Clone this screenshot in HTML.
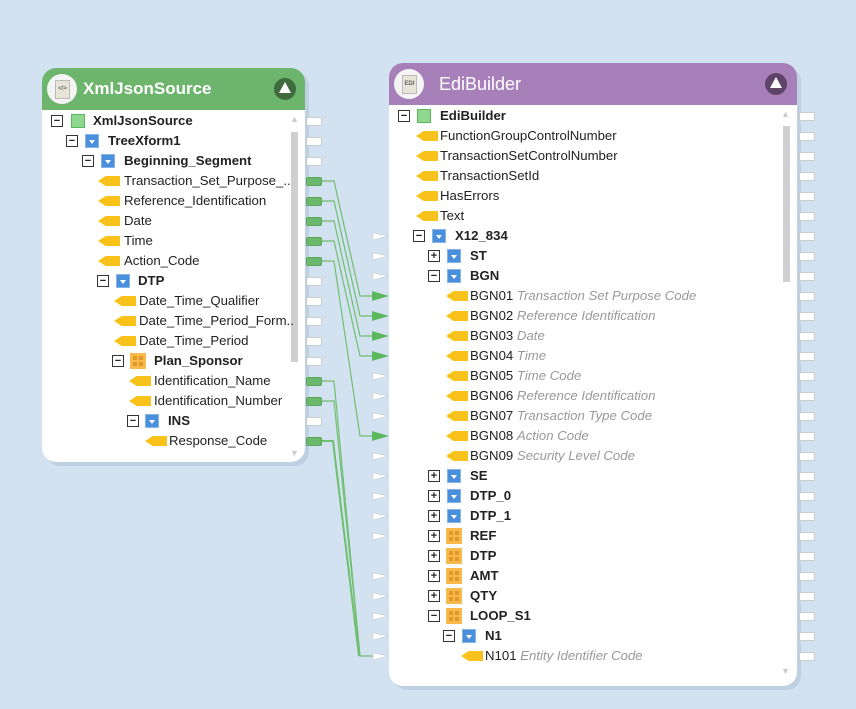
<!DOCTYPE html>
<html><head><meta charset="utf-8"><style>
body{margin:0;width:856px;height:709px;background:#d3e2f1;position:relative;overflow:hidden;font-family:"Liberation Sans",sans-serif;font-size:13.2px;color:#222}
.p{position:absolute;background:#fff;border-radius:14px;box-shadow:4px 4px 0 #bfd0e2}
.h{position:absolute;left:0;right:0;top:0;border-radius:14px 14px 0 0;color:#fff;font-size:17px;font-weight:bold}
.logo{position:absolute;width:30px;height:30px;border-radius:50%;background:#f4f4f4;top:6px;left:5px}
.logo i{position:absolute;left:8px;top:6px;width:13px;height:17px;background:#e8e4d8;border:1px solid #bbb;font-size:6px;color:#666;font-style:normal;text-align:center;line-height:17px}
.up{position:absolute;width:22px;height:22px;border-radius:50%;top:10px}
.up:after{content:"";position:absolute;left:5px;top:4px;border-left:6px solid transparent;border-right:6px solid transparent;border-bottom:11px solid #fff}
.a{position:absolute;white-space:nowrap}
.b{position:absolute;width:10px;height:10px;border:1px solid #333;background:#fff;font-size:11px;line-height:10px;text-align:center;font-weight:bold}
.bi{position:absolute;width:14px;height:14px;background:#4a8fdb;border:1px solid #86b3e8;box-sizing:border-box}
.bi:after{content:"";position:absolute;left:3px;top:5px;border-left:3px solid transparent;border-right:3px solid transparent;border-top:4px solid #fff}
.gi{position:absolute;width:14px;height:14px;background:#8fd68f;border:1.5px solid #5cb85c;box-sizing:border-box}
.oi{position:absolute;width:16px;height:16px;background:#f7b94a;box-sizing:border-box}
.oi:after{content:"";position:absolute;left:3px;top:3px;width:10px;height:10px;background:linear-gradient(#f7b94a,#f7b94a) 4px 0/2px 10px no-repeat,linear-gradient(#f7b94a,#f7b94a) 0 4px/10px 2px no-repeat,#e0962a}
.lf{position:absolute;width:22px;height:10px;background:#f8c21b;clip-path:polygon(0 50%,35% 0,100% 0,100% 100%,35% 100%)}
.t{position:absolute;white-space:nowrap}
.bd{font-weight:bold}
.it{color:#999;font-style:italic}
.po{position:absolute;width:14px;height:7px;background:#fff;border:1px solid #ccc;border-radius:2px}
.pg{background:#6cb86c;border-color:#5aa55a}
.sb{position:absolute;width:7px;background:#cfcfcf}
</style></head><body>

<svg width="856" height="709" style="position:absolute;left:0;top:0">
<g fill="none" stroke="#6fbf6f" stroke-width="1.2">
<polyline points="322,181 334,181 360,296 374,296"/>
<polyline points="322,201 334,201 360,316 374,316"/>
<polyline points="322,221 334,221 360,336 374,336"/>
<polyline points="322,241 334,241 360,356 374,356"/>
<polyline points="322,261 334,261 360,436 374,436"/>
<polyline points="322,381 334,381 360,656 374,656"/>
<polyline points="322,401 334,401 360,656"/>
<polyline points="322,441 333,441 359,656" stroke-width="2"/>
</g>
<g fill="#fff" stroke="#ccc" stroke-width="0.6">
<polygon points="373,233 388,236 373,240"/><polygon points="373,253 388,256 373,260"/><polygon points="373,273 388,276 373,280"/>
<polygon points="373,313 388,316 373,320"/><polygon points="373,333 388,336 373,340"/>
<polygon points="373,373 388,376 373,380"/><polygon points="373,393 388,396 373,400"/><polygon points="373,413 388,416 373,420"/>
<polygon points="373,453 388,456 373,460"/><polygon points="373,473 388,476 373,480"/><polygon points="373,493 388,496 373,500"/><polygon points="373,513 388,516 373,520"/><polygon points="373,533 388,536 373,540"/>
<polygon points="373,573 388,576 373,580"/><polygon points="373,593 388,596 373,600"/><polygon points="373,613 388,616 373,620"/><polygon points="373,633 388,636 373,640"/><polygon points="373,653 388,656 373,660"/>
</g>
<g fill="#5cb85c">
<polygon points="372,291 389,296 372,301"/><polygon points="372,311 389,316 372,321"/><polygon points="372,331 389,336 372,341"/><polygon points="372,351 389,356 372,361"/><polygon points="372,431 389,436 372,441"/>
</g>
</svg>

<div class="p" style="left:42px;top:68px;width:263px;height:394px">
<div class="h" style="height:42px;background:#6db56d"><div class="logo"><i>&lt;/&gt;</i></div><span class="a" style="left:41px;top:11px">XmlJsonSource</span><div class="up" style="left:232px;background:#3f6b3f"></div></div>
<div class="sb" style="left:249px;top:64px;height:230px"></div>
<span class="a" style="left:248px;top:46px;color:#ccc;font-size:9px">▲</span>
<span class="a" style="left:248px;top:380px;color:#ccc;font-size:9px">▼</span>
</div>
<div style="position:absolute;left:0;top:0">
<div class="b" style="left:51px;top:115px">−</div><div class="gi" style="left:71px;top:114px"></div><span class="t bd" style="left:93px;top:113px">XmlJsonSource</span>
<div class="b" style="left:66px;top:135px">−</div><div class="bi" style="left:85px;top:134px"></div><span class="t bd" style="left:108px;top:133px">TreeXform1</span>
<div class="b" style="left:82px;top:155px">−</div><div class="bi" style="left:101px;top:154px"></div><span class="t bd" style="left:124px;top:153px">Beginning_Segment</span>
<div class="lf" style="left:98px;top:176px"></div><span class="t" style="left:124px;top:173px">Transaction_Set_Purpose_..</span>
<div class="lf" style="left:98px;top:196px"></div><span class="t" style="left:124px;top:193px">Reference_Identification</span>
<div class="lf" style="left:98px;top:216px"></div><span class="t" style="left:124px;top:213px">Date</span>
<div class="lf" style="left:98px;top:236px"></div><span class="t" style="left:124px;top:233px">Time</span>
<div class="lf" style="left:98px;top:256px"></div><span class="t" style="left:124px;top:253px">Action_Code</span>
<div class="b" style="left:97px;top:275px">−</div><div class="bi" style="left:116px;top:274px"></div><span class="t bd" style="left:138px;top:273px">DTP</span>
<div class="lf" style="left:114px;top:296px"></div><span class="t" style="left:139px;top:293px">Date_Time_Qualifier</span>
<div class="lf" style="left:114px;top:316px"></div><span class="t" style="left:139px;top:313px">Date_Time_Period_Form..</span>
<div class="lf" style="left:114px;top:336px"></div><span class="t" style="left:139px;top:333px">Date_Time_Period</span>
<div class="b" style="left:112px;top:355px">−</div><div class="oi" style="left:130px;top:353px"></div><span class="t bd" style="left:154px;top:353px">Plan_Sponsor</span>
<div class="lf" style="left:129px;top:376px"></div><span class="t" style="left:154px;top:373px">Identification_Name</span>
<div class="lf" style="left:129px;top:396px"></div><span class="t" style="left:154px;top:393px">Identification_Number</span>
<div class="b" style="left:127px;top:415px">−</div><div class="bi" style="left:145px;top:414px"></div><span class="t bd" style="left:168px;top:413px">INS</span>
<div class="lf" style="left:145px;top:436px"></div><span class="t" style="left:169px;top:433px">Response_Code</span>
</div>
<div class="po" style="left:306px;top:117px"></div><div class="po" style="left:306px;top:137px"></div><div class="po" style="left:306px;top:157px"></div>
<div class="po pg" style="left:306px;top:177px"></div><div class="po pg" style="left:306px;top:197px"></div><div class="po pg" style="left:306px;top:217px"></div><div class="po pg" style="left:306px;top:237px"></div><div class="po pg" style="left:306px;top:257px"></div>
<div class="po" style="left:306px;top:277px"></div><div class="po" style="left:306px;top:297px"></div><div class="po" style="left:306px;top:317px"></div><div class="po" style="left:306px;top:337px"></div><div class="po" style="left:306px;top:357px"></div>
<div class="po pg" style="left:306px;top:377px"></div><div class="po pg" style="left:306px;top:397px"></div><div class="po" style="left:306px;top:417px"></div><div class="po pg" style="left:306px;top:437px"></div>

<div class="p" style="left:389px;top:63px;width:408px;height:623px">
<div class="h" style="height:42px;background:#a880b9"><div class="logo"><i>EDI</i></div><span class="a" style="left:50px;top:11px;font-weight:normal;font-size:18px">EdiBuilder</span><div class="up" style="left:376px;background:#5e4468"></div></div>
<div class="sb" style="left:394px;top:63px;height:156px"></div>
<span class="a" style="left:392px;top:46px;color:#ccc;font-size:9px">▲</span>
<span class="a" style="left:392px;top:603px;color:#ccc;font-size:9px">▼</span>
</div>
<div style="position:absolute;left:0;top:0">
<div class="b" style="left:398px;top:110px">−</div><div class="gi" style="left:417px;top:109px"></div><span class="t bd" style="left:440px;top:108px">EdiBuilder</span>
<div class="lf" style="left:416px;top:131px"></div><span class="t" style="left:440px;top:128px">FunctionGroupControlNumber</span>
<div class="lf" style="left:416px;top:151px"></div><span class="t" style="left:440px;top:148px">TransactionSetControlNumber</span>
<div class="lf" style="left:416px;top:171px"></div><span class="t" style="left:440px;top:168px">TransactionSetId</span>
<div class="lf" style="left:416px;top:191px"></div><span class="t" style="left:440px;top:188px">HasErrors</span>
<div class="lf" style="left:416px;top:211px"></div><span class="t" style="left:440px;top:208px">Text</span>
<div class="b" style="left:413px;top:230px">−</div><div class="bi" style="left:432px;top:229px"></div><span class="t bd" style="left:455px;top:228px">X12_834</span>
<div class="b" style="left:428px;top:250px">+</div><div class="bi" style="left:447px;top:249px"></div><span class="t bd" style="left:470px;top:248px">ST</span>
<div class="b" style="left:428px;top:270px">−</div><div class="bi" style="left:447px;top:269px"></div><span class="t bd" style="left:470px;top:268px">BGN</span>
<div class="lf" style="left:446px;top:291px"></div><span class="t" style="left:470px;top:288px">BGN01 <span class="it">Transaction Set Purpose Code</span></span>
<div class="lf" style="left:446px;top:311px"></div><span class="t" style="left:470px;top:308px">BGN02 <span class="it">Reference Identification</span></span>
<div class="lf" style="left:446px;top:331px"></div><span class="t" style="left:470px;top:328px">BGN03 <span class="it">Date</span></span>
<div class="lf" style="left:446px;top:351px"></div><span class="t" style="left:470px;top:348px">BGN04 <span class="it">Time</span></span>
<div class="lf" style="left:446px;top:371px"></div><span class="t" style="left:470px;top:368px">BGN05 <span class="it">Time Code</span></span>
<div class="lf" style="left:446px;top:391px"></div><span class="t" style="left:470px;top:388px">BGN06 <span class="it">Reference Identification</span></span>
<div class="lf" style="left:446px;top:411px"></div><span class="t" style="left:470px;top:408px">BGN07 <span class="it">Transaction Type Code</span></span>
<div class="lf" style="left:446px;top:431px"></div><span class="t" style="left:470px;top:428px">BGN08 <span class="it">Action Code</span></span>
<div class="lf" style="left:446px;top:451px"></div><span class="t" style="left:470px;top:448px">BGN09 <span class="it">Security Level Code</span></span>
<div class="b" style="left:428px;top:470px">+</div><div class="bi" style="left:447px;top:469px"></div><span class="t bd" style="left:470px;top:468px">SE</span>
<div class="b" style="left:428px;top:490px">+</div><div class="bi" style="left:447px;top:489px"></div><span class="t bd" style="left:470px;top:488px">DTP_0</span>
<div class="b" style="left:428px;top:510px">+</div><div class="bi" style="left:447px;top:509px"></div><span class="t bd" style="left:470px;top:508px">DTP_1</span>
<div class="b" style="left:428px;top:530px">+</div><div class="oi" style="left:446px;top:528px"></div><span class="t bd" style="left:470px;top:528px">REF</span>
<div class="b" style="left:428px;top:550px">+</div><div class="oi" style="left:446px;top:548px"></div><span class="t bd" style="left:470px;top:548px">DTP</span>
<div class="b" style="left:428px;top:570px">+</div><div class="oi" style="left:446px;top:568px"></div><span class="t bd" style="left:470px;top:568px">AMT</span>
<div class="b" style="left:428px;top:590px">+</div><div class="oi" style="left:446px;top:588px"></div><span class="t bd" style="left:470px;top:588px">QTY</span>
<div class="b" style="left:428px;top:610px">−</div><div class="oi" style="left:446px;top:608px"></div><span class="t bd" style="left:470px;top:608px">LOOP_S1</span>
<div class="b" style="left:443px;top:630px">−</div><div class="bi" style="left:462px;top:629px"></div><span class="t bd" style="left:485px;top:628px">N1</span>
<div class="lf" style="left:461px;top:651px"></div><span class="t" style="left:485px;top:648px">N101 <span class="it">Entity Identifier Code</span></span>
</div>
<div class="po" style="left:799px;top:112px"></div><div class="po" style="left:799px;top:132px"></div><div class="po" style="left:799px;top:152px"></div><div class="po" style="left:799px;top:172px"></div><div class="po" style="left:799px;top:192px"></div><div class="po" style="left:799px;top:212px"></div><div class="po" style="left:799px;top:232px"></div><div class="po" style="left:799px;top:252px"></div><div class="po" style="left:799px;top:272px"></div><div class="po" style="left:799px;top:292px"></div><div class="po" style="left:799px;top:312px"></div><div class="po" style="left:799px;top:332px"></div><div class="po" style="left:799px;top:352px"></div><div class="po" style="left:799px;top:372px"></div><div class="po" style="left:799px;top:392px"></div><div class="po" style="left:799px;top:412px"></div><div class="po" style="left:799px;top:432px"></div><div class="po" style="left:799px;top:452px"></div><div class="po" style="left:799px;top:472px"></div><div class="po" style="left:799px;top:492px"></div><div class="po" style="left:799px;top:512px"></div><div class="po" style="left:799px;top:532px"></div><div class="po" style="left:799px;top:552px"></div><div class="po" style="left:799px;top:572px"></div><div class="po" style="left:799px;top:592px"></div><div class="po" style="left:799px;top:612px"></div><div class="po" style="left:799px;top:632px"></div><div class="po" style="left:799px;top:652px"></div>
</body></html>
